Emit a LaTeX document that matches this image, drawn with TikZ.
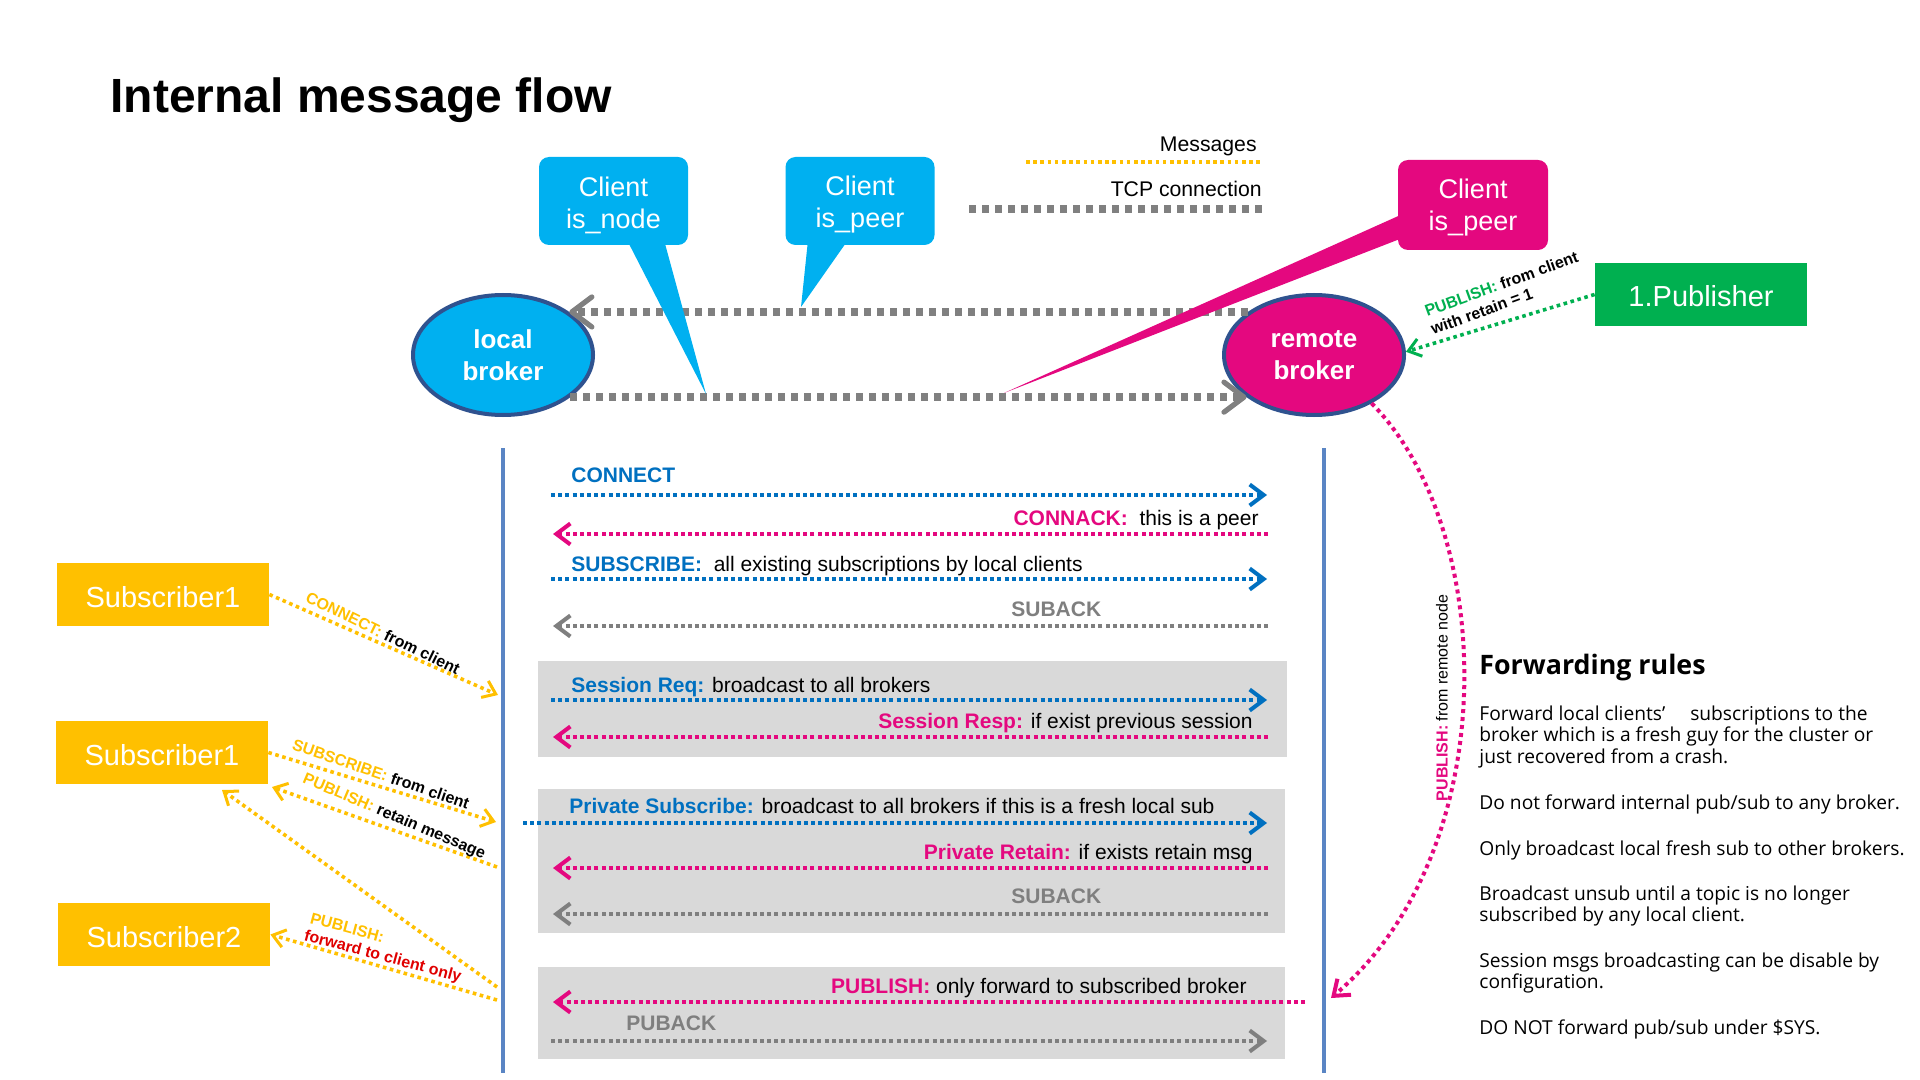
\documentclass[tikz,border=0pt]{standalone}
\usepackage{fontspec}
\setmainfont{Liberation Sans}
\newfontfamily\rulefont{Open Sans}
\usetikzlibrary{arrows.meta,shapes.geometric}
\definecolor{cyanb}{HTML}{00B0F0}
\definecolor{magb}{HTML}{E4087F}
\definecolor{yel}{HTML}{FFC000}
\definecolor{grn}{HTML}{00B050}
\definecolor{msgblue}{HTML}{0070C0}
\definecolor{msggray}{HTML}{7F7F7F}
\definecolor{tcpgray}{HTML}{808080}
\definecolor{boxgray}{HTML}{D9D9D9}
\definecolor{vblue}{HTML}{5A85C4}
\definecolor{bord}{HTML}{2F528F}
\definecolor{redt}{HTML}{E00000}
\tikzset{
  mtip/.tip={Straight Barb[length=7pt,width=10.5pt,line width=2pt]},
  ttip/.tip={Straight Barb[length=10pt,width=15pt,line width=2.6pt,round]},
  ytip/.tip={Straight Barb[length=6pt,width=9pt,line width=1.5pt]},
  msgline/.style={line width=2pt, dash pattern=on 2pt off 1.6pt},
  tcpline/.style={draw=tcpgray, line width=4pt, dash pattern=on 3.5pt off 3pt},
  yline/.style={draw=yel, line width=1.8pt, dash pattern=on 1.8pt off 1.8pt},
  gline/.style={draw=grn, line width=1.8pt, dash pattern=on 1.8pt off 1.8pt},
  mcurve/.style={draw=magb, line width=2pt, dash pattern=on 2pt off 2pt},
  vline/.style={draw=vblue, line width=2pt},
  callout/.style={rounded corners=5pt, minimum width=74.5pt, minimum height=44pt},
  callouttxt/.style={text=white, align=center, font=\fontsize{13.5pt}{16pt}\selectfont},
  broker/.style={ellipse, minimum width=90pt, minimum height=60pt, draw=bord, line width=2pt, text=white, align=center, font=\bfseries\fontsize{13pt}{16pt}\selectfont},
  actor/.style={minimum width=106pt, minimum height=31.5pt},
  actortxt/.style={text=white, font=\fontsize{14.5pt}{17pt}\selectfont},
  msgtxt/.style={font=\fontsize{10.5pt}{12.6pt}\selectfont},
  lbl/.style={font=\bfseries\fontsize{8pt}{9.6pt}\selectfont},
  legtxt/.style={font=\fontsize{10.6pt}{12.7pt}\selectfont},
  ruletxt/.style={anchor=base west, font=\rulefont\fontsize{9.6pt}{11pt}\selectfont}
}
\begin{document}
\begin{tikzpicture}[x=0.5pt,y=-0.5pt, every node/.style={inner sep=0pt}]
\useasboundingbox (0,0) rectangle (1920,1080);
\fill[white] (0,0) rectangle (1920,1080);

% title
\node[anchor=base west, font=\bfseries\fontsize{24pt}{28pt}\selectfont] (title) at (110,113) {Internal message flow};

% legend
\node[legtxt, anchor=base east] (legmsg) at (1257,152) {Messages};
\coordinate (lm1) at (1026,162); \coordinate (lm2) at (1262,162);
\draw[yline] (lm1) -- (lm2);
\node[legtxt, anchor=base east] (legtcp) at (1262,197) {TCP connection};
\coordinate (lt1) at (969,209); \coordinate (lt2) at (1267,209);
\draw[tcpline] (lt1) -- (lt2);

% gray boxes
\fill[boxgray] (538,661) rectangle (1287,757);
\fill[boxgray] (538,789) rectangle (1285,933);
\fill[boxgray] (538,967) rectangle (1285,1059);

% brokers
\node[broker, fill=cyanb] (local) at (503,355) {local\\broker};
\node[broker, fill=magb] (remote) at (1314,355) {remote\\broker};

% TCP connections
\draw[tcpline, -{ttip}] (remote.147) -- (local.33);
\draw[tcpline, -{ttip}] (local.-32) -- (remote.-148);

% callouts
\fill[cyanb] (627,240) -- (664,240) -- (706,394) -- cycle;
\fill[cyanb] (808,240) -- (848,240) -- (801,307) -- cycle;
\fill[magb] (1405,213) -- (1405,237) -- (1004,393) -- cycle;
\node[callout, fill=cyanb] (cnode) at (613.5,201) {};
\node[callouttxt] (cnodet) at ([yshift=-2pt]cnode.center) {Client\\is\_node};
\node[callout, fill=cyanb] (cpeer) at (860,201) {};
\node[callouttxt] (cpeert) at ([yshift=-2pt]cpeer.center) {Client\\is\_peer};
\node[callout, fill=magb, minimum width=75pt, minimum height=45pt] (rpeer) at (1473,205) {};
\node[callouttxt] (rpeert) at ([yshift=-1.5pt]rpeer.center) {Client\\is\_peer};

% vertical life lines
\coordinate (vl1) at (503,448); \coordinate (vl2) at (503,1073);
\coordinate (vr1) at (1324,448); \coordinate (vr2) at (1324,1073);
\draw[vline] (vl1) -- (vl2);
\draw[vline] (vr1) -- (vr2);

% message rows
\coordinate (r1a) at (551,495);  \coordinate (r1b) at (1267,495);
\coordinate (r2a) at (1268,534); \coordinate (r2b) at (553,534);
\coordinate (r3a) at (551,579);  \coordinate (r3b) at (1267,579);
\coordinate (r4a) at (1268,626); \coordinate (r4b) at (553,626);
\coordinate (r5a) at (551,700);  \coordinate (r5b) at (1267,700);
\coordinate (r6a) at (1268,737); \coordinate (r6b) at (553,737);
\coordinate (r7a) at (523,823);  \coordinate (r7b) at (1267,823);
\coordinate (r8a) at (1268,868); \coordinate (r8b) at (553,868);
\coordinate (r9a) at (1268,914); \coordinate (r9b) at (553,914);
\coordinate (r10a) at (1305,1002); \coordinate (r10b) at (553,1002);
\coordinate (r11a) at (551,1041); \coordinate (r11b) at (1267,1041);

\draw[msgline, draw=msgblue, -{mtip}] (r1a) -- (r1b);
\draw[msgline, draw=magb, -{mtip}] (r2a) -- (r2b);
\draw[msgline, draw=msgblue, -{mtip}] (r3a) -- (r3b);
\draw[msgline, draw=msggray, -{mtip}] (r4a) -- (r4b);
\draw[msgline, draw=msgblue, -{mtip}] (r5a) -- (r5b);
\draw[msgline, draw=magb, -{mtip}] (r6a) -- (r6b);
\draw[msgline, draw=msgblue, -{mtip}] (r7a) -- (r7b);
\draw[msgline, draw=magb, -{mtip}] (r8a) -- (r8b);
\draw[msgline, draw=msggray, -{mtip}] (r9a) -- (r9b);
\draw[msgline, draw=magb, -{mtip}] (r10a) -- (r10b);
\draw[msgline, draw=msggray, -{mtip}] (r11a) -- (r11b);

\node[msgtxt, anchor=base west, text=msgblue] (t1) at (571,482) {\bfseries CONNECT};
\node[msgtxt, anchor=base east] (t2) at (1259,525) {\textcolor{magb}{\bfseries CONNACK:}\ \ this is a peer};
\node[msgtxt, anchor=base west] (t3) at (571,571) {\textcolor{msgblue}{\bfseries SUBSCRIBE:}\ \ all existing subscriptions by local clients};
\node[msgtxt, anchor=base west, text=msggray] (t4) at (1011,616) {\bfseries SUBACK};
\node[msgtxt, anchor=base west] (t5) at (571,692) {\textcolor{msgblue}{\bfseries Session Req:} broadcast to all brokers};
\node[msgtxt, anchor=base east] (t6) at (1253,728) {\textcolor{magb}{\bfseries Session Resp:} if exist previous session};
\node[msgtxt, anchor=base west] (t7) at (569,813) {\textcolor{msgblue}{\bfseries Private Subscribe:} broadcast to all brokers if this is a fresh local sub};
\node[msgtxt, anchor=base east] (t8) at (1253,859) {\textcolor{magb}{\bfseries Private Retain:} if exists retain msg};
\node[msgtxt, anchor=base west, text=msggray] (t9) at (1011,903) {\bfseries SUBACK};
\node[msgtxt, anchor=base east] (t10) at (1247,993) {\textcolor{magb}{\bfseries PUBLISH:} only forward to subscribed broker};
\node[msgtxt, anchor=base west, text=msggray] (t11) at (626,1030) {\bfseries PUBACK};

% clients on the left
\node[actor, fill=yel] (sub1a) at (163,594.5) {};
\node[actortxt] (sub1at) at ([yshift=-1.2pt]sub1a.center) {Subscriber1};
\node[actor, fill=yel] (sub1b) at (162,752.5) {};
\node[actortxt] (sub1bt) at ([yshift=-1.2pt]sub1b.center) {Subscriber1};
\node[actor, fill=yel] (sub2) at (164,934.5) {};
\node[actortxt] (sub2t) at ([yshift=-1.2pt]sub2.center) {Subscriber2};

\coordinate (yA) at (498,695);
\coordinate (yB) at (496,822);
\coordinate (yC) at (497,867);
\coordinate (yCt) at (272,787);
\coordinate (yD) at (497,987);
\coordinate (yDt) at (222,790);
\coordinate (yE) at (497,1000);

\draw[yline, -{ytip}] (sub1a.east) -- (yA);
\draw[yline, -{ytip}] (sub1b.east) -- (yB);
\draw[yline, -{ytip}] (yC) -- (yCt);
\draw[yline, -{ytip}] (yD) -- (yDt);
\draw[yline, -{ytip}] (yE) -- (sub2.east);

\node[lbl, rotate=-26] (lA) at (383,633) {\textcolor{yel}{CONNECT:} from client};
\node[lbl, rotate=-19] (lB) at (381,774) {\textcolor{yel}{SUBSCRIBE:} from client};
\node[lbl, rotate=-23] (lC) at (394,817) {\textcolor{yel}{PUBLISH:} retain message};
\node[lbl, rotate=-15, anchor=base west, text=yel] (lE1) at (309,923) {PUBLISH:};
\node[lbl, rotate=-15, anchor=base west, text=redt] (lE2) at (303,940) {forward to client only};

% publisher
\node[actor, fill=grn] (pub) at (1701,294.5) {};
\node[actortxt] (pubt) at ([yshift=-1pt]pub.center) {1.Publisher};
\draw[gline, -{ytip}] (pub.west) -- (remote.2);
\node[lbl, rotate=20, anchor=base west] (lG1) at (1427,317) {\textcolor{grn}{PUBLISH:} from client};
\node[lbl, rotate=20, anchor=base west] (lG2) at (1433,335) {with retain = 1};

% forward from remote node
\coordinate (fwdend) at (1331,998);
\draw[mcurve, -{mtip}] (remote.-40) .. controls (1497,530) and (1505,850) .. (fwdend);
\node[rotate=90, font=\fontsize{8pt}{9.6pt}\selectfont] (lR) at (1442,698) {\textcolor{magb}{\bfseries PUBLISH:} from remote node};

% forwarding rules
\node[anchor=base west, font=\rulefont\bfseries\fontsize{13.4pt}{15pt}\selectfont] (frh) at (1479,674) {Forwarding rules};
\node[ruletxt] (fr1) at (1479,720) {Forward local clients’\hspace{1.3em}subscriptions to the};
\node[ruletxt] (fr2) at (1479,741.5) {broker which is a fresh guy for the cluster or};
\node[ruletxt] (fr3) at (1479,763) {just recovered from a crash.};
\node[ruletxt] (fr4) at (1479,809) {Do not forward internal pub/sub to any broker.};
\node[ruletxt] (fr5) at (1479,855) {Only broadcast local fresh sub to other brokers.};
\node[ruletxt] (fr6) at (1479,900) {Broadcast unsub until a topic is no longer};
\node[ruletxt] (fr7) at (1479,921.5) {subscribed by any local client.};
\node[ruletxt] (fr8) at (1479,967) {Session msgs broadcasting can be disable by};
\node[ruletxt] (fr9) at (1479,988.5) {configuration.};
\node[ruletxt] (fr10) at (1479,1034) {DO NOT forward pub/sub under \$SYS.};
\end{tikzpicture}
\end{document}
